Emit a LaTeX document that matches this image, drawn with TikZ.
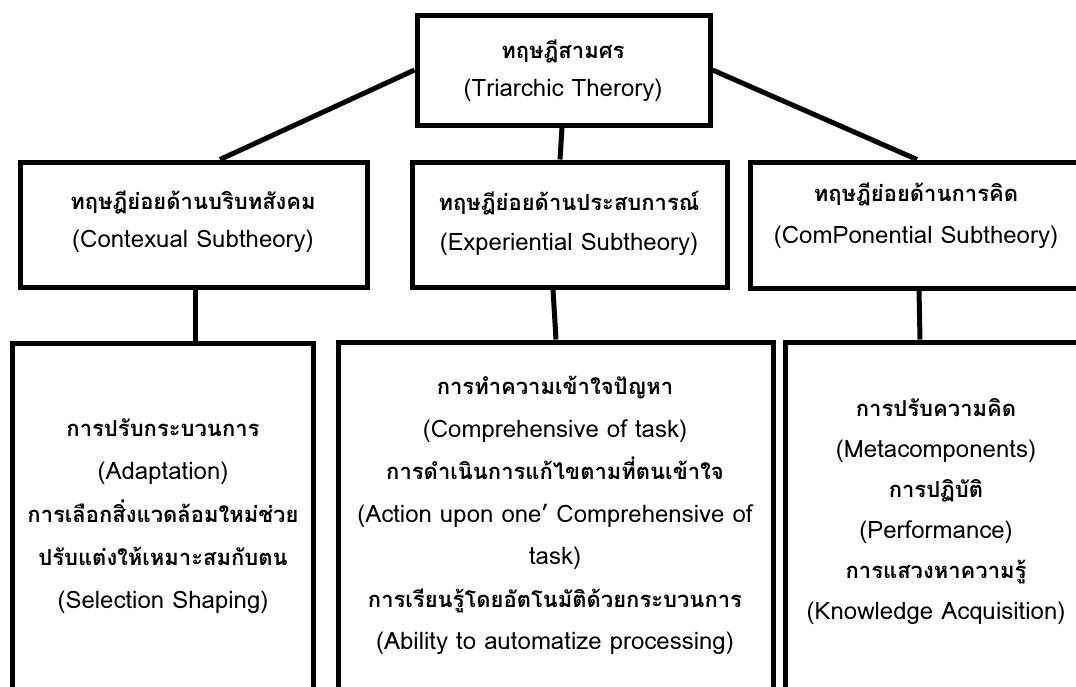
\documentclass[tikz,border=0pt]{standalone}
\usepackage{fontspec}
\setmainfont[Script=Thai]{Loma}
\usetikzlibrary{shadows}

\tikzset{
  box/.style={draw=black, line width=5pt, fill=white, inner sep=0pt,
    drop shadow={opacity=0.22, shadow xshift=1pt, shadow yshift=-1.5pt}},
  link/.style={draw=black, line width=5pt},
  txt/.style={align=center, inner sep=0pt, text=black}
}
% Thai heading lines: bold and a little smaller than the Latin lines
\newcommand{\tha}[1]{{\fontsize{22}{42}\selectfont\bfseries #1}}

\begin{document}
\begin{tikzpicture}[x=1pt, y=-1pt]
  \useasboundingbox (0,0) rectangle (1076,686);
  \clip (0,0) rectangle (1076,686);

  % boxes
  \node[box, minimum width=293pt, minimum height=110pt] (top) at (563.5,70) {};
  \node[box, minimum width=347pt, minimum height=125pt] (ctx) at (193.5,224.5) {};
  \node[box, minimum width=315pt, minimum height=125pt] (exp) at (569.5,224.5) {};
  \node[box, minimum width=350pt, minimum height=126pt] (cmp) at (925,225) {};
  \node[box, minimum width=301pt, minimum height=387pt] (adp) at (162.5,536.5) {};
  \node[box, minimum width=435pt, minimum height=388pt] (act) at (555.5,536) {};
  \node[box, minimum width=315pt, minimum height=388pt] (meta) at (942.5,536) {};

  % connectors
  \draw[link] (top.west) -- ([xshift=26.5pt]ctx.north);
  \draw[link] (top.east) -- ([xshift=-8pt]cmp.north);
  \draw[link] ([xshift=-1.5pt]top.south) -- ([xshift=-9.5pt]exp.north);
  \draw[link] ([xshift=1.5pt]ctx.south) -- ([xshift=32.5pt]adp.north);
  \draw[link] ([xshift=-16.5pt]exp.south) -- ([xshift=0.5pt]act.north);
  \draw[link] ([xshift=-6pt]cmp.south) -- ([xshift=-22.5pt]meta.north);

  % texts
  \node[txt, font=\fontsize{24}{38}\selectfont] (topT) at (563,71)
    {\tha{ทฤษฎีสามศร}\\(Triarchic Therory)};
  \node[txt, font=\fontsize{24}{38}\selectfont] (ctxT) at (193,222)
    {\tha{ทฤษฎีย่อยด้านบริบทสังคม}\\(Contexual Subtheory)};
  \node[txt, font=\fontsize{24}{40}\selectfont] (expT) at (569,223)
    {\tha{ทฤษฎีย่อยด้านประสบการณ์}\\(Experiential Subtheory)};
  \node[txt, font=\fontsize{24}{42}\selectfont] (cmpT) at (916,216)
    {\tha{ทฤษฎีย่อยด้านการคิด}\\(ComPonential Subtheory)};
  \node[txt, font=\fontsize{24}{43}\selectfont] (adpT) at (163,516)
    {\tha{การปรับกระบวนการ}\\(Adaptation)\\\tha{การเลือกสิ่งแวดล้อมใหม่ช่วย}\\\tha{ปรับแต่งให้เหมาะสมกับตน}\\(Selection Shaping)};
  \node[txt, font=\fontsize{24}{42.5}\selectfont] (actT) at (555,515.5)
    {\tha{การทำความเข้าใจปัญหา}\\(Comprehensive of task)\\\tha{การดำเนินการแก้ไขตามที่ตนเข้าใจ}\\(Action upon one’ Comprehensive of\\task)\\\tha{การเรียนรู้โดยอัตโนมัติด้วยกระบวนการ}\\(Ability to automatize processing)};
  \node[txt, font=\fontsize{24}{40.6}\selectfont] (metaT) at (936,511.5)
    {\tha{การปรับความคิด}\\(Metacomponents)\\\tha{การปฏิบัติ}\\(Performance)\\\tha{การแสวงหาความรู้}\\(Knowledge Acquisition)};
\end{tikzpicture}
\end{document}
